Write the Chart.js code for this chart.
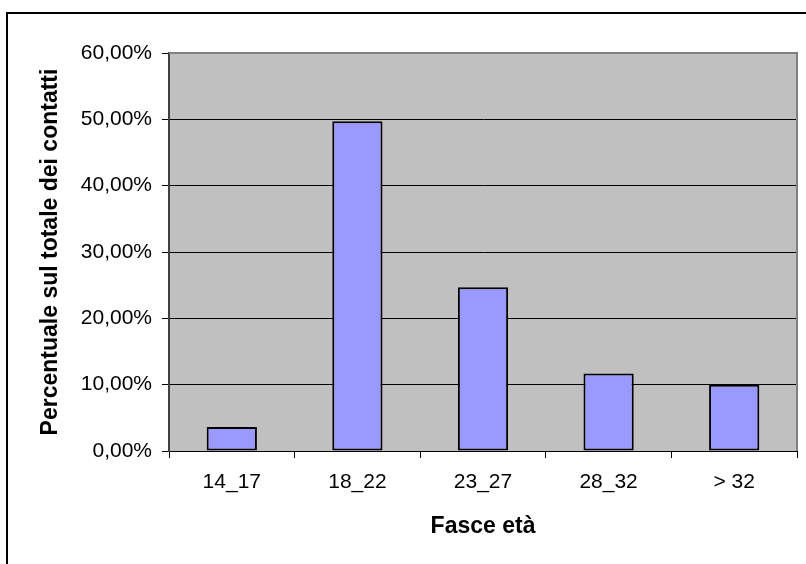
<!DOCTYPE html>
<html>
<head>
<meta charset="utf-8">
<script src="https://cdn.jsdelivr.net/npm/chart.js@4.4.1/dist/chart.umd.min.js"></script>
<style>
  html, body { margin: 0; padding: 0; background: #fff; }
  #wrap { position: relative; width: 806px; height: 564px; }
  canvas { display: block; }
</style>
</head>
<body>
<div id="wrap"><canvas id="c" width="806" height="564"></canvas></div>
<script>
const categories = ['14_17', '18_22', '23_27', '28_32', '> 32'];
const shares = [0.036, 0.497, 0.247, 0.117, 0.100];
const yTickValues = [0, 0.1, 0.2, 0.3, 0.4, 0.5, 0.6];
const xTitle = 'Fasce età';
const yTitle = 'Percentuale sul totale dei contatti';

const FONT = '"Liberation Sans", Arial, sans-serif';

const framePlugin = {
  id: 'frame',
  beforeDraw(chart) {
    const { ctx, chartArea: a } = chart;
    ctx.save();
    ctx.fillStyle = '#C0C0C0';
    ctx.fillRect(a.left, a.top, a.right - a.left, a.bottom - a.top);
    ctx.restore();
  },
  beforeDatasetsDraw(chart) {
    const { ctx, chartArea: a } = chart;
    ctx.save();
    ctx.strokeStyle = '#808080';
    ctx.lineWidth = 2;
    ctx.beginPath();
    ctx.moveTo(a.left, a.top);
    ctx.lineTo(a.right, a.top);
    ctx.lineTo(a.right, a.bottom);
    ctx.stroke();
    ctx.restore();
  },
  afterDraw(chart) {
    const { ctx } = chart;
    ctx.save();
    ctx.strokeStyle = '#000';
    ctx.lineWidth = 2;
    ctx.beginPath();
    ctx.moveTo(7, 564);
    ctx.lineTo(7, 13);
    ctx.lineTo(806, 13);
    ctx.stroke();
    ctx.restore();
  }
};

new Chart(document.getElementById('c'), {
  type: 'bar',
  data: {
    labels: categories,
    datasets: [{
      data: shares,
      backgroundColor: '#9999FF',
      borderColor: '#000000',
      borderWidth: 2,
      borderSkipped: false,
      barPercentage: 0.4,
      categoryPercentage: 1.0
    }]
  },
  options: {
    responsive: false,
    animation: false,
    devicePixelRatio: 1,
    layout: { padding: { left: 0, top: 53, right: 9, bottom: 0 } },
    plugins: {
      legend: { display: false },
      tooltip: { enabled: false },
      title: { display: false }
    },
    scales: {
      x: {
        afterFit: s => { s.height = 113; },
        grid: {
          offset: true,
          drawOnChartArea: false,
          drawTicks: true,
          tickLength: 7,
          color: '#000',
          lineWidth: 1
        },
        border: { display: true, color: '#000', width: 1 },
        ticks: {
          color: '#000',
          padding: 12,
          font: { family: FONT, size: 21 },
          maxRotation: 0,
          autoSkip: false
        },
        title: {
          display: true,
          text: xTitle,
          color: '#000',
          font: { family: FONT, size: 23, weight: 'bold' },
          padding: { top: 0, bottom: 24 }
        }
      },
      y: {
        min: 0,
        max: 0.6,
        afterFit: s => { s.width = 169; },
        afterBuildTicks: s => { s.ticks = yTickValues.map(v => ({ value: v })); },
        grid: {
          color: c => (c.tick && Math.abs(c.tick.value - 0.6) < 1e-9) ? '#808080' : '#000',
          tickColor: '#000',
          lineWidth: 1,
          drawTicks: true,
          tickLength: 7
        },
        border: { display: true, color: '#404040', width: 2 },
        ticks: {
          color: '#000',
          padding: 10,
          font: { family: FONT, size: 21 },
          callback: v => (v * 100).toFixed(2).replace('.', ',') + '%'
        },
        title: {
          display: true,
          text: yTitle,
          color: '#000',
          font: { family: FONT, size: 23, weight: 'bold' },
          padding: { top: 37, bottom: 0 }
        }
      }
    }
  },
  plugins: [framePlugin]
});
</script>
</body>
</html>
